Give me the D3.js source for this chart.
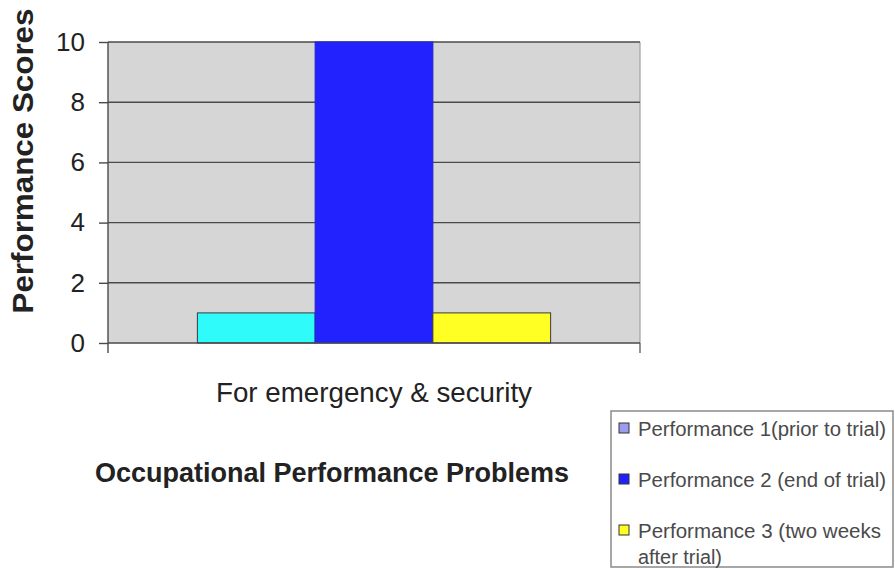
<!DOCTYPE html>
<html>
<head>
<meta charset="utf-8">
<script src="https://cdn.jsdelivr.net/npm/d3@7"></script>
<style>
  html, body { margin: 0; padding: 0; background: #ffffff; }
  svg { display: block; }
  text { font-family: "Liberation Sans", Arial, sans-serif; }
</style>
</head>
<body>
<div id="chart"></div>
<script>
// Data
const categories = ["For emergency & security"];
const seriesNames = [
  "Performance 1(prior to trial)",
  "Performance 2 (end of trial)",
  "Performance 3 (two weeks after trial)"
];
const perf1 = [1];
const perf2 = [10];
const perf3 = [1];
const yTicks = [0, 2, 4, 6, 8, 10];
const barColors = ["#30fbfb", "#2222ff", "#ffff24"];
const legendColors = ["#9c9cee", "#2222ff", "#ffff24"];
const legendLines = [
  ["Performance 1(prior to trial)"],
  ["Performance 2 (end of trial)"],
  ["Performance 3 (two weeks", "after trial)"]
];

const W = 895, H = 569;
const plot = { left: 108, right: 640, top: 42, bottom: 343 };

const svg = d3.select("#chart").append("svg")
  .attr("width", W).attr("height", H);

const x0 = d3.scaleBand().domain(categories).range([plot.left, plot.right]);
const gap = x0.bandwidth() * 0.168;
const x1 = d3.scaleBand().domain(seriesNames).range([gap, x0.bandwidth() - gap]);
const y = d3.scaleLinear().domain([0, 10]).range([plot.bottom, plot.top]);

// Plot area background
svg.append("rect")
  .attr("x", plot.left).attr("y", plot.top)
  .attr("width", plot.right - plot.left).attr("height", plot.bottom - plot.top)
  .attr("fill", "#d6d6d6");

// Right border of plot area
svg.append("line")
  .attr("x1", plot.right).attr("x2", plot.right)
  .attr("y1", plot.top).attr("y2", plot.bottom)
  .attr("stroke", "#a0a0a0").attr("stroke-width", 1.2);

// Gridlines
svg.append("g").selectAll("line").data(yTicks.filter(d => d > 0)).join("line")
  .attr("x1", plot.left).attr("x2", plot.right)
  .attr("y1", d => y(d)).attr("y2", d => y(d))
  .attr("stroke", "#4a4a4a").attr("stroke-width", 1.4);

// Bars
const rows = categories.map((c, i) => ({ cat: c, vals: [perf1[i], perf2[i], perf3[i]] }));
const groups = svg.append("g").selectAll("g").data(rows).join("g")
  .attr("transform", d => `translate(${x0(d.cat)},0)`);
groups.selectAll("rect")
  .data(d => d.vals.map((v, j) => ({ name: seriesNames[j], v, j })))
  .join("rect")
  .attr("x", d => x1(d.name))
  .attr("y", d => y(d.v))
  .attr("width", x1.bandwidth())
  .attr("height", d => y(0) - y(d.v))
  .attr("fill", d => barColors[d.j])
  .attr("stroke", d => d.j === 1 ? "#2222cc" : "#3a3a3a")
  .attr("stroke-width", 1);

// Y axis
const yAxis = svg.append("g")
  .attr("transform", `translate(${plot.left},0)`)
  .call(d3.axisLeft(y).tickValues(yTicks).tickSize(9).tickPadding(14).tickFormat(d3.format("d")));
yAxis.select(".domain")
  .attr("d", `M0,${plot.top}V${plot.bottom + 10}`)
  .attr("stroke", "#4a4a4a").attr("stroke-width", 1.4);
yAxis.selectAll(".tick line").attr("stroke", "#4a4a4a").attr("stroke-width", 1.4);
yAxis.selectAll(".tick text")
  .attr("font-size", 26).attr("fill", "#222")
  .attr("font-family", "'Liberation Sans', Arial, sans-serif");

// X axis
const xAxis = svg.append("g")
  .attr("transform", `translate(0,${plot.bottom})`)
  .call(d3.axisBottom(x0).tickSize(0).tickPadding(0).tickFormat(""));
xAxis.select(".domain").remove();
xAxis.append("line")
  .attr("x1", plot.left).attr("x2", plot.right)
  .attr("stroke", "#4a4a4a").attr("stroke-width", 1.4);
xAxis.append("line")
  .attr("x1", plot.right).attr("x2", plot.right).attr("y1", 0).attr("y2", 10)
  .attr("stroke", "#4a4a4a").attr("stroke-width", 1.2);

// Category label
svg.append("g").selectAll("text").data(categories).join("text")
  .attr("x", d => x0(d) + x0.bandwidth() / 2)
  .attr("y", 402)
  .attr("text-anchor", "middle")
  .attr("font-size", 28)
  .attr("fill", "#222")
  .attr("textLength", 316).attr("lengthAdjust", "spacingAndGlyphs")
  .text(d => d);

// Axis titles
svg.append("text")
  .attr("x", 95).attr("y", 482)
  .attr("font-size", 27).attr("font-weight", "bold").attr("fill", "#222")
  .attr("textLength", 474).attr("lengthAdjust", "spacingAndGlyphs")
  .text("Occupational Performance Problems");

svg.append("text")
  .attr("transform", "translate(33,161) rotate(-90)")
  .attr("text-anchor", "middle")
  .attr("font-size", 30).attr("font-weight", "bold").attr("fill", "#222")
  .attr("textLength", 305).attr("lengthAdjust", "spacingAndGlyphs")
  .text("Performance Scores");

// Legend
const legend = svg.append("g");
legend.append("rect")
  .attr("x", 611).attr("y", 411).attr("width", 282).attr("height", 156)
  .attr("fill", "#fff").attr("stroke", "#8a8a8a").attr("stroke-width", 1.5);

const itemY = [428, 479, 530];
const items = legend.selectAll("g.item").data(seriesNames).join("g")
  .attr("class", "item")
  .attr("transform", (d, i) => `translate(619,${itemY[i]})`);
items.append("rect")
  .attr("x", 0).attr("y", -5).attr("width", 10).attr("height", 10)
  .attr("fill", (d, i) => legendColors[i])
  .attr("stroke", "#333").attr("stroke-width", 1);
const lineLens = [[248], [248], [243, 84]];
items.each(function (d, i) {
  const g = d3.select(this);
  legendLines[i].forEach((t, k) => {
    g.append("text")
      .attr("x", 19).attr("y", 8 + k * 26)
      .attr("font-size", 20).attr("fill", "#4a4a4a")
      .attr("textLength", lineLens[i][k]).attr("lengthAdjust", "spacingAndGlyphs")
      .text(t);
  });
});
</script>
</body>
</html>
